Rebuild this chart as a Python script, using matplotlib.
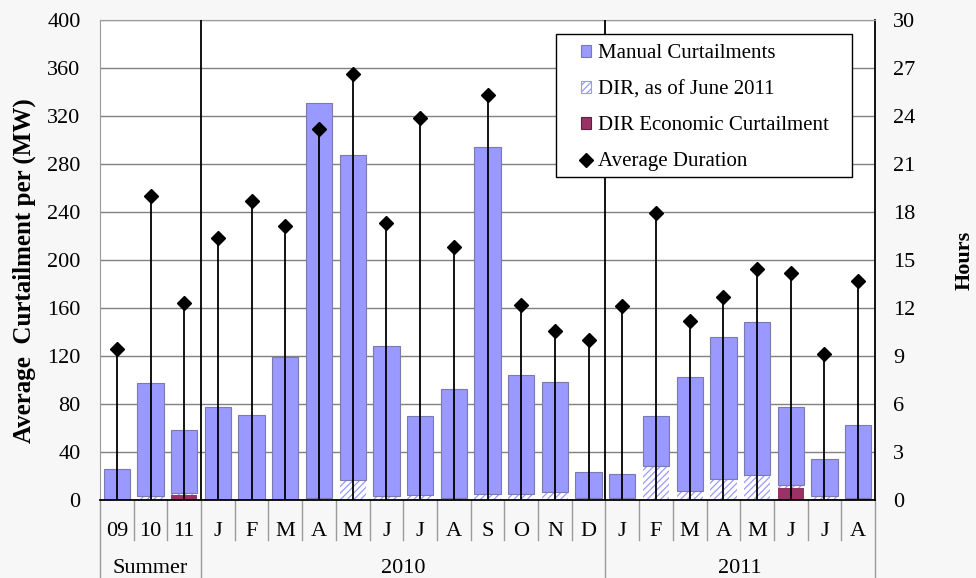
import numpy as np
import matplotlib
matplotlib.use("Agg")
import matplotlib.pyplot as plt
from matplotlib.patches import Patch, Rectangle
from matplotlib.lines import Line2D
import matplotlib.transforms as mtransforms

plt.rcParams['font.family'] = ['Liberation Serif', 'DejaVu Serif']
plt.rcParams['hatch.linewidth'] = 0.9

# Month labels and their grouping
months = ["09", "10", "11", "J", "F", "M", "A", "M", "J", "J", "A", "S",
          "O", "N", "D", "J", "F", "M", "A", "M", "J", "J", "A"]
groups = ["Summer", "2010", "2011"]
group_sizes = [3, 12, 8]

# Average curtailment per event (MW), stacked components
manual = [25.6, 94.2, 52.5, 77.2, 70.6, 118.2, 329.5, 270.8, 125.3, 66.3, 90.8,
          289.2, 98.7, 92.2, 21.7, 20.0, 41.7, 95.0, 118.4, 127.5, 65.0, 30.9, 61.0]
dir_june2011 = [0, 3.0, 1.5, 0, 0, 1.0, 1.5, 16.7, 3.0, 4.0, 1.4,
                4.7, 5.3, 6.4, 1.4, 1.4, 28.0, 7.2, 17.2, 20.5, 2.5, 2.2, 0]
dir_economic = [0, 0, 4.0, 0, 0, 0, 0, 0, 0, 0, 0,
                0, 0, 0, 0, 0, 0, 0, 0, 0, 9.7, 0.8, 1.5]

# Average event duration (hours)
duration = [9.42, 19.0, 12.33, 16.35, 18.67, 17.1, 23.2, 26.6, 17.3, 23.85, 15.8,
            25.3, 12.17, 10.56, 9.98, 12.1, 17.96, 11.17, 12.67, 14.42, 14.17, 9.13, 13.67]

blue = '#9999ff'
maroon = '#993366'
bg = '#f7f7f7'
FS = 16
LFS = 15

x = np.arange(len(months))
econ = np.array(dir_economic)
dirv = np.array(dir_june2011)
man = np.array(manual)

fig = plt.figure(figsize=(9.76, 5.78), dpi=100, facecolor=bg)
ax = fig.add_axes([100 / 976, 78 / 578, 775 / 976, 480 / 578])
ax.set_facecolor('white')

w = 0.78
ax.bar(x, econ, width=w, color=maroon, edgecolor='none', lw=0, zorder=2)
ax.bar(x, dirv, bottom=econ, width=w, color='white', edgecolor=blue,
       hatch='/////', lw=0, zorder=2)
ax.bar(x, man, bottom=econ + dirv, width=w, color=blue, edgecolor='#7a7ab0',
       lw=0.8, zorder=2)

ax.set_xlim(-0.5, len(months) - 0.5)
ax.set_ylim(0, 400)
ax.set_yticks(np.arange(0, 401, 40))
ax.yaxis.grid(True, color='#808080', lw=1.0, zorder=0)
ax.set_axisbelow(True)
ax.set_xticks([])
ax.tick_params(axis='y', length=0, pad=14, labelsize=FS)

for s in ['left', 'top']:
    ax.spines[s].set_color('#9a9a9a')
for s in ['bottom', 'right']:
    ax.spines[s].set_color('black')
    ax.spines[s].set_linewidth(1.3)

# Separators between the period groups
bounds = np.cumsum(group_sizes)[:-1] - 0.5
for b in bounds:
    ax.axvline(b, color='black', lw=1.3, zorder=3)

ax.set_ylabel('Average  Curtailment per (MW)', fontsize=18, fontweight='bold')
ax.yaxis.set_label_coords(-0.082, 0.478)

# Duration on the secondary axis
ax2 = ax.twinx()
ax2.set_ylim(0, 30)
ax2.set_yticks(np.arange(0, 31, 3))
ax2.tick_params(axis='y', length=0, pad=13, labelsize=FS)
ax2.vlines(x, 0, duration, color='black', lw=1.3, zorder=4)
ax2.plot(x, duration, ls='none', marker='D', ms=7.5, color='black', zorder=5)
for s in ax2.spines.values():
    s.set_visible(False)
ax2.set_ylabel('Hours', fontsize=FS, fontweight='bold')
ax2.yaxis.set_label_coords(1.103, 0.5)

# Category table beneath the axis
trans = mtransforms.blended_transform_factory(ax.transData, ax.transAxes)
row1 = -40 / 480
row2 = -80 / 480
for i, m in enumerate(months):
    ax.text(i, -36 / 480, m, transform=trans, ha='center', va='baseline', fontsize=FS)
for i in range(len(months) + 1):
    xb = i - 0.5
    full = (i == 0) or (i == len(months)) or (xb in bounds)
    ax.plot([xb, xb], [0, row2 if full else row1], transform=trans,
            color='#9a9a9a', lw=1.0, clip_on=False, zorder=1)
start = 0
for g, n in zip(groups, group_sizes):
    ax.text(start + (n - 1) / 2, -73 / 480, g, transform=trans, ha='center',
            va='baseline', fontsize=FS)
    start += n

# Legend with a hand-placed frame
ax2.add_patch(Rectangle(((556 - 100) / 775, (500 - 177) / 480), 296 / 775, 143 / 480,
                        transform=ax2.transAxes, facecolor='white', edgecolor='black',
                        lw=1.0, zorder=9))
handles = [
    Patch(facecolor=blue, edgecolor='#7a7ab0', lw=0.8),
    Patch(facecolor='white', edgecolor=blue, hatch='/////', lw=0.8),
    Patch(facecolor=maroon, edgecolor='#5a2040', lw=0.8),
    Line2D([], [], ls='none', marker='D', ms=7, color='black'),
]
labels = ['Manual Curtailments', 'DIR, as of June 2011',
          'DIR Economic Curtailment', 'Average Duration']
leg = ax2.legend(handles, labels, loc='upper left',
                 bbox_to_anchor=((581 - 100) / 775, (500 - 44) / 480),
                 fontsize=LFS, frameon=False, handlelength=0.5, handleheight=0.5,
                 handletextpad=0.3, labelspacing=0.82, borderpad=0,
                 borderaxespad=0)
leg.set_zorder(10)

fig.savefig('out.png', dpi=100, facecolor=bg)
